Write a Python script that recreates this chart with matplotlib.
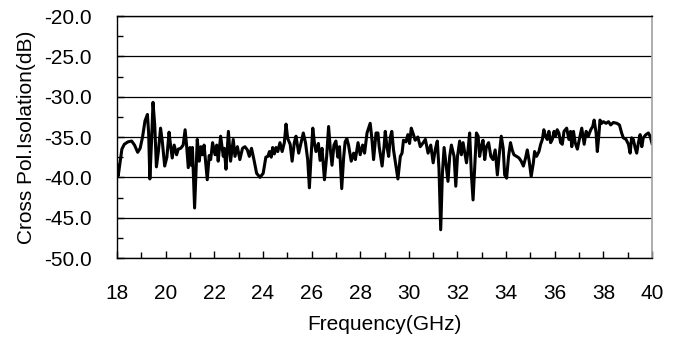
import matplotlib
matplotlib.use("Agg")
import matplotlib.pyplot as plt
from matplotlib.ticker import MultipleLocator, FormatStrFormatter

plt.rcParams['font.family'] = ['Liberation Sans', 'DejaVu Sans']

# frequency (GHz) and cross-pol isolation (dB)
freq = [18.00, 18.05, 18.12, 18.20, 18.30, 18.45, 18.60, 18.72, 18.85, 18.95,
        19.05, 19.15, 19.25, 19.30, 19.35, 19.42, 19.48, 19.55, 19.62, 19.70,
        19.79, 19.86, 19.96, 20.05, 20.14, 20.20, 20.27, 20.35, 20.45, 20.52,
        20.62, 20.72, 20.80, 20.86, 20.93, 21.00, 21.05, 21.10, 21.19, 21.30,
        21.38, 21.45, 21.52, 21.58, 21.71, 21.79, 21.85, 21.93, 22.03, 22.10,
        22.16, 22.26, 22.37, 22.41, 22.48, 22.58, 22.67, 22.78, 22.85, 22.95,
        23.05, 23.16, 23.26, 23.36, 23.44, 23.53, 23.63, 23.74, 23.88, 24.01,
        24.12, 24.20, 24.27, 24.34, 24.40, 24.47, 24.54, 24.61, 24.70, 24.79,
        24.88, 24.95, 25.02, 25.12, 25.20, 25.29, 25.36, 25.47, 25.57, 25.66,
        25.75, 25.84, 25.91, 25.98, 26.05, 26.12, 26.18, 26.28, 26.35, 26.43,
        26.53, 26.62, 26.70, 26.77, 26.84, 26.92, 27.00, 27.08, 27.15, 27.24,
        27.32, 27.38, 27.45, 27.52, 27.63, 27.73, 27.80, 27.91, 28.00, 28.10,
        28.18, 28.28, 28.41, 28.48, 28.55, 28.65, 28.73, 28.78, 28.90, 28.98,
        29.03, 29.10, 29.17, 29.24, 29.30, 29.37, 29.47, 29.55, 29.65, 29.72,
        29.78, 29.88, 29.96, 30.03, 30.10, 30.19, 30.26, 30.37, 30.47, 30.59,
        30.68, 30.79, 30.90, 31.00, 31.09, 31.17, 31.24, 31.31, 31.38, 31.45,
        31.54, 31.61, 31.68, 31.75, 31.86, 31.93, 32.00, 32.09, 32.16, 32.23,
        32.37, 32.43, 32.50, 32.57, 32.64, 32.71, 32.78, 32.85, 32.91, 32.98,
        33.05, 33.12, 33.19, 33.28, 33.37, 33.46, 33.55, 33.64, 33.71, 33.80,
        33.88, 33.94, 34.02, 34.10, 34.18, 34.25, 34.32, 34.43, 34.53, 34.62,
        34.71, 34.80, 34.87, 34.95, 35.03, 35.12, 35.17, 35.25, 35.35, 35.42,
        35.49, 35.55, 35.62, 35.69, 35.76, 35.83, 35.90, 35.97, 36.03, 36.10,
        36.17, 36.24, 36.31, 36.38, 36.49, 36.58, 36.65, 36.70, 36.77, 36.84,
        36.93, 37.01, 37.11, 37.21, 37.29, 37.38, 37.48, 37.56, 37.62, 37.70,
        37.75, 37.81, 37.86, 37.93, 38.00, 38.11, 38.21, 38.30, 38.41, 38.55,
        38.66, 38.75, 38.82, 38.93, 39.03, 39.10, 39.16, 39.23, 39.31, 39.37,
        39.44, 39.51, 39.58, 39.64, 39.75, 39.85, 39.92, 40.00]

iso = [-38.5, -39.8, -38.3, -36.5, -35.9, -35.6, -35.5, -36.0, -36.9, -36.4,
       -35.0, -33.0, -32.2, -34.5, -40.2, -35.5, -30.7, -33.5, -38.7, -36.8,
       -33.9, -35.5, -38.6, -37.5, -34.4, -36.0, -37.6, -36.0, -37.2, -36.5,
       -36.4, -36.0, -34.1, -36.0, -38.8, -36.3, -38.5, -36.3, -43.8, -35.3,
       -38.0, -36.2, -37.2, -36.0, -40.3, -37.3, -37.8, -35.7, -37.2, -36.0,
       -38.0, -34.9, -37.4, -36.4, -39.0, -34.3, -38.0, -35.3, -37.4, -36.2,
       -37.8, -36.4, -36.2, -36.6, -37.4, -36.4, -37.8, -39.5, -40.0, -39.5,
       -37.5, -37.4, -36.8, -37.5, -36.3, -37.1, -36.3, -36.8, -35.7, -36.8,
       -35.7, -33.4, -35.2, -35.9, -38.0, -35.7, -34.9, -37.0, -35.7, -34.5,
       -35.7, -37.8, -41.3, -37.4, -33.9, -35.8, -36.8, -35.8, -37.9, -36.4,
       -40.3, -37.4, -33.7, -36.5, -38.5, -36.0, -35.5, -37.5, -36.2, -41.4,
       -37.5, -35.6, -35.2, -36.0, -38.0, -37.0, -37.8, -35.7, -37.2, -36.0,
       -37.0, -34.5, -33.3, -35.2, -37.8, -34.5, -34.5, -36.2, -38.6, -36.2,
       -34.3, -36.2, -37.4, -35.0, -34.3, -36.6, -38.6, -40.2, -37.4, -37.0,
       -35.4, -35.6, -34.7, -35.8, -33.9, -34.7, -35.4, -35.0, -36.2, -35.7,
       -35.3, -37.0, -36.0, -38.2, -36.5, -35.5, -39.0, -46.5, -39.5, -36.3,
       -38.6, -40.5, -37.4, -36.0, -37.4, -41.1, -37.4, -35.5, -37.2, -35.7,
       -38.2, -36.7, -34.5, -39.5, -42.8, -38.6, -34.5, -34.9, -37.4, -36.2,
       -35.4, -37.8, -36.2, -35.7, -37.4, -37.8, -36.6, -39.7, -37.4, -34.9,
       -36.4, -39.7, -40.1, -37.4, -35.7, -36.6, -37.2, -37.4, -37.6, -38.0,
       -38.6, -37.6, -36.6, -38.0, -39.9, -38.2, -36.8, -37.4, -36.8, -35.9,
       -35.3, -34.1, -34.9, -35.3, -34.3, -35.7, -35.3, -34.3, -34.9, -34.1,
       -34.5, -35.7, -35.9, -34.3, -33.9, -35.3, -34.3, -36.2, -34.3, -35.7,
       -36.5, -35.3, -33.9, -35.9, -34.3, -34.9, -34.1, -33.7, -32.9, -34.5,
       -36.8, -34.9, -32.9, -33.3, -33.1, -33.3, -33.1, -33.5, -33.2, -33.3,
       -33.5, -34.5, -35.1, -35.3, -35.9, -37.0, -35.1, -35.3, -36.4, -37.0,
       -35.7, -34.7, -36.2, -35.1, -34.7, -34.5, -34.9, -35.8]

fig = plt.figure(figsize=(6.78, 3.41), dpi=100)
ax = fig.add_axes([0.1726, 0.2434, 0.7891, 0.7096])

ax.plot(freq, iso, color='black', lw=2.2, solid_joinstyle='round')

ax.set_xlim(18, 40)
ax.set_ylim(-50, -20)
ax.xaxis.set_major_locator(MultipleLocator(2))
ax.xaxis.set_minor_locator(MultipleLocator(1))
ax.yaxis.set_major_locator(MultipleLocator(5))
ax.yaxis.set_minor_locator(MultipleLocator(2.5))
ax.yaxis.set_major_formatter(FormatStrFormatter('%.1f'))
ax.grid(axis='y', which='major', color='black', lw=0.9)
ax.set_axisbelow(True)

ax.tick_params(which='both', direction='in', labelsize=15, color='black')
ax.tick_params(which='major', length=5, width=1)
ax.tick_params(which='minor', length=4, width=1)
ax.tick_params(axis='x', pad=19)
ax.tick_params(axis='y', pad=18)

for s in ['left', 'bottom', 'top']:
    ax.spines[s].set_color('black')
    ax.spines[s].set_linewidth(1)
ax.spines['right'].set_color('#a0a0a0')
ax.spines['right'].set_linewidth(1.2)

ax.set_xlabel('Frequency(GHz)', fontsize=15, labelpad=8)
ax.set_ylabel('Cross Pol.Isolation(dB)', fontsize=15, labelpad=6)

fig.savefig('out.png', dpi=100)
